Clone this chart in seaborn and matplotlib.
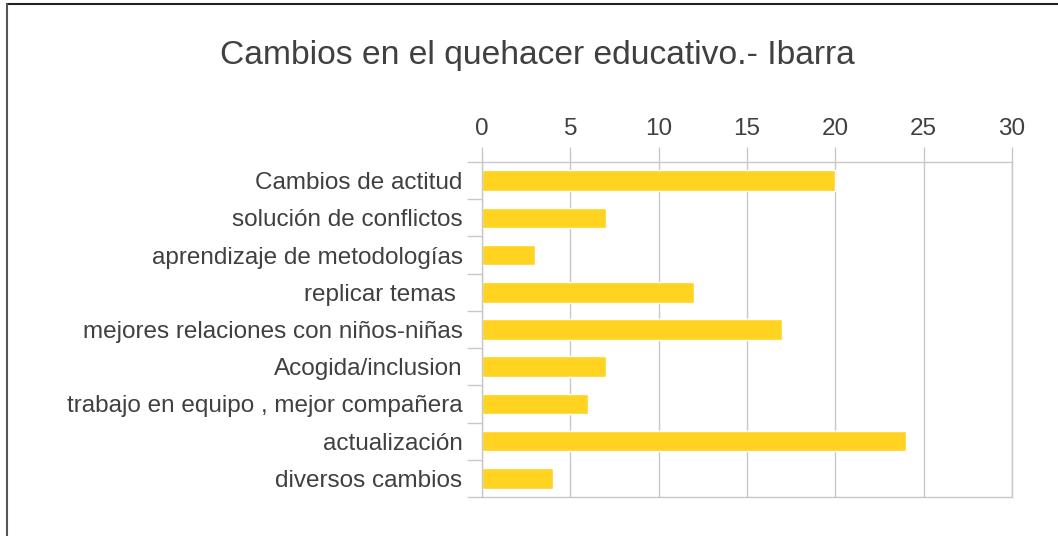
import matplotlib
matplotlib.use("Agg")
import matplotlib.pyplot as plt
import seaborn as sns
import pandas as pd
import numpy as np
from matplotlib.lines import Line2D

categories = [
    "Cambios de actitud",
    "solución de conflictos",
    "aprendizaje de metodologías",
    "replicar temas ",
    "mejores relaciones con niños-niñas",
    "Acogida/inclusion",
    "trabajo en equipo , mejor compañera",
    "actualización",
    "diversos cambios",
]
values = [20, 7, 3, 12, 17, 7, 6, 24, 4]
x_ticks = [0, 5, 10, 15, 20, 25, 30]
title = "Cambios en el quehacer educativo.- Ibarra"

sns.set_theme(style="white")
plt.rcParams["font.family"] = ["Liberation Sans", "DejaVu Sans"]

W, H = 1058, 536
fig = plt.figure(figsize=(W / 100, H / 100), dpi=100)
ax = fig.add_axes([482 / W, 1 - 497 / H, (1012 - 482) / W, (497 - 162) / H])

df = pd.DataFrame({"cat": categories, "val": values})
sns.barplot(data=df, x="val", y="cat", orient="h", color="#FFD320",
            width=0.55, ax=ax, saturation=1)

grid_c = "#C8C8C8"
text_c = "#404040"
ax.set_xlim(0, 30)
ax.set_ylim(len(categories) - 0.5, -0.5)
ax.set_xticks(x_ticks)
ax.set_xticklabels([str(t) for t in x_ticks])
ax.xaxis.tick_top()
ax.xaxis.set_label_position("top")
ax.set_xlabel("")
ax.set_ylabel("")
ax.grid(axis="x", color=grid_c, linewidth=1)
ax.set_axisbelow(True)
for s in ax.spines.values():
    s.set_visible(True)
    s.set_color(grid_c)
    s.set_linewidth(1)

ax.tick_params(axis="x", which="major", top=True, bottom=False, length=11,
               width=1, color=grid_c, labelsize=17.5, labelcolor=text_c, pad=5)
ax.set_yticks(np.arange(len(categories)))
ax.set_yticklabels(categories)
ax.tick_params(axis="y", which="major", left=False, length=0,
               labelsize=17.5, labelcolor=text_c, pad=14)
ax.set_yticks(np.arange(len(categories) + 1) - 0.5, minor=True)
ax.tick_params(axis="y", which="minor", left=True, length=11, width=1,
               color=grid_c)

fig.text(537 / W, 1 - 64 / H, title, ha="center", va="baseline",
         fontsize=24.2, color=text_c)

fig.add_artist(Line2D([6.5 / W, 1], [1 - 3.5 / H, 1 - 3.5 / H],
                      transform=fig.transFigure, color="#222222", linewidth=1.5))
fig.add_artist(Line2D([6.5 / W, 6.5 / W], [0, 1 - 3.5 / H],
                      transform=fig.transFigure, color="#555555", linewidth=1.5))

fig.savefig("out.png", dpi=100)
